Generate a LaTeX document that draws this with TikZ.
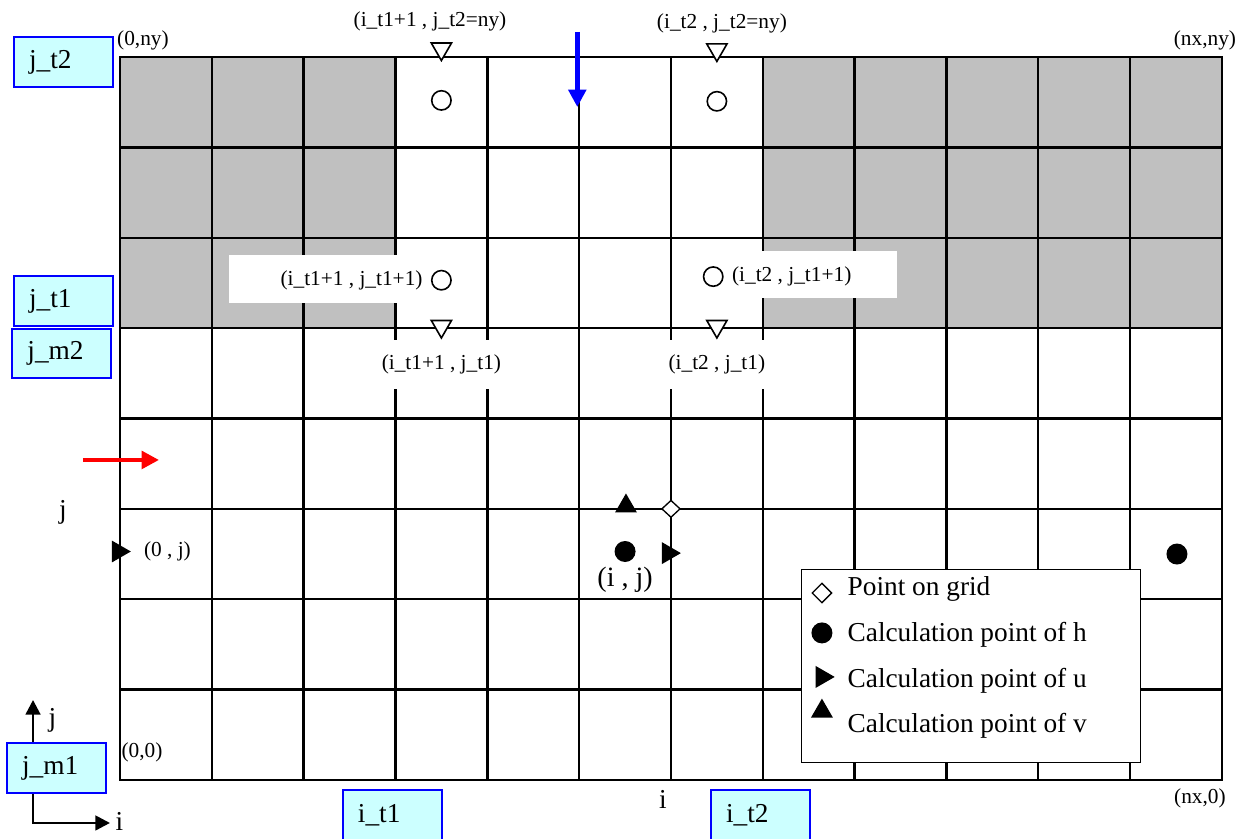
\documentclass[tikz,border=0pt]{standalone}
\usepackage{fontspec}
\setmainfont{Liberation Serif}
\usepackage{xcolor}
\usepackage{tikz}
\usetikzlibrary{calc, positioning, arrows, arrows.meta, shapes, shapes.geometric}

\definecolor{cellgray}{RGB}{192,192,192}
\definecolor{boxcyan}{RGB}{204,255,255}
\newcommand{\lblsize}{\fontsize{16pt}{19pt}\selectfont}
\newcommand{\bigsize}{\fontsize{20.5pt}{24pt}\selectfont}

\begin{document}
\begin{tikzpicture}[x=68.875pt, y=67.78pt, >=stealth', semithick]
			\tikzstyle{every node}=[font=\lblsize, inner sep=1pt]
			\tikzstyle{gridline}=[line width=1.8pt]
			\tikzstyle{idx-box}=[rectangle, draw=blue, line width=1.5pt, fill=boxcyan, text width=51.75pt, inner xsep=11.25pt, inner ysep=0pt, minimum height=37.5pt, align=left, font=\bigsize]
			\tikzstyle{white-box}=[rectangle, fill=white, inner sep=0pt]
			\tikzstyle{h-open}=[circle, draw, line width=1.2pt, minimum size=14.5pt, inner sep=0pt]
			\tikzstyle{h-dot}=[circle, fill, minimum size=15.75pt, inner sep=0pt]
			\tikzstyle{u-dot}=[regular polygon, regular polygon sides=3, shape border rotate=-90, fill, minimum size=19pt, inner sep=0pt]
			\tikzstyle{v-dot}=[regular polygon, regular polygon sides=3, fill, minimum size=19pt, inner sep=0pt]
			\tikzstyle{bc-mark}=[regular polygon, regular polygon sides=3, shape border rotate=180, draw, fill=white, line width=1.2pt, minimum size=17.5pt, inner sep=0pt]
			\tikzstyle{grid-dot}=[diamond, draw, fill=white, line width=1pt, minimum width=14pt, minimum height=13pt, inner sep=0pt]
			\tikzstyle{inflow}=[line width=3.6pt, -{Triangle[length=13pt, width=13pt]}]
			\tikzstyle{axis}=[line width=2pt, {Triangle[length=11pt, width=11pt]}-{Triangle[length=11pt, width=11pt]}]
			\useasboundingbox (-1.3067,-0.6528) rectangle (12.262,8.6307);
			% land cells
			\fill[cellgray] (0,5) rectangle (3,8);
			\fill[cellgray] (7,5) rectangle (12,8);
			\foreach \i in {0,...,12}
				\draw[gridline] (\i,0) -- (\i,8);
			\foreach \j in {0,...,8}
				\draw[gridline] (0,\j) -- (12,\j);
			\draw[gridline] (0,0) rectangle (12,8);
			% text boxes over the land
			\node[white-box, minimum width=180.75pt, minimum height=36pt] (box-t1) at (2.499,5.5435) {};
			\node[white-box, minimum width=155.25pt, minimum height=35.25pt] (box-t2) at (7.334,5.593) {};
			\node[h-open] (h-t1-top) at (3.5,7.52) {};
			\node[h-open] (h-t2-top) at (6.5,7.51) {};
			\node[h-open] (h-t1-in) at (3.5,5.53) {};
			\node[h-open] (h-t2-in) at (6.46,5.57) {};
			\node[left=5pt of h-t1-in] (lbl-t1-in) {(i\_t1+1 , j\_t1+1)};
			\node[right=5pt of h-t2-in] (lbl-t2-in) {(i\_t2 , j\_t1+1)};
			% boundary points
			\node[bc-mark] (bc-t1-top) at (3.5,8.09) {};
			\node[bc-mark] (bc-t2-top) at (6.5,8.08) {};
			\node[bc-mark] (bc-t1-mid) at (3.5,5.02) {};
			\node[bc-mark] (bc-t2-mid) at (6.5,5.02) {};
			\node (lbl-t1-top) at (3.376,8.398) {(i\_t1+1 , j\_t2=ny)};
			\node (lbl-t2-top) at (6.555,8.376) {(i\_t2 , j\_t2=ny)};
			\node[below=0pt of bc-t1-mid, fill=white, minimum height=36.75pt, inner xsep=3pt] (lbl-t1-mid) {(i\_t1+1 , j\_t1)};
			\node[below=0pt of bc-t2-mid, fill=white, minimum height=36.75pt, inner xsep=3pt] (lbl-t2-mid) {(i\_t2 , j\_t1)};
%			\node (lbl-t1-mid) at (3.506,4.581) {(i\_t1+1 , j\_t1)};
			% corners
			\node (c-0ny) at (0.25,8.188) {(0,ny)};
			\node (c-nxny) at (11.815,8.188) {(nx,ny)};
			\node (c-00) at (0.24,0.31) {(0,0)};
			\node (c-nx0) at (11.76,-0.2) {(nx,0)};
			% calculation points
			\node[grid-dot] (p-grid) at (6,3) {};
			\node[h-dot] (h-ij) at (5.5,2.528) {};
			\node[u-dot] (u-ij) at (5.97,2.51) {};
			\node[v-dot] (v-ij) at (5.51,3.03) {};
			\node[below=2pt of h-ij, font=\fontsize{21pt}{24pt}\selectfont] (lbl-ij) {(i , j)};
			\node[h-dot] (h-end) at (11.51,2.5) {};
			\node[u-dot] (u-0j) at (-0.02,2.528) {};
			\node[right=8pt of u-0j] (lbl-0j) {(0 , j)};
			\node[font=\bigsize] (lbl-j) at (-0.621,2.965) {j};
			\node[font=\bigsize] (lbl-i) at (5.913,-0.221) {i};
			% inflow arrows
			\coordinate (in-top-s) at (4.98,8.277);
			\coordinate (in-top-e) at (4.98,7.447);
			\coordinate (in-left-s) at (-0.403,3.541);
			\coordinate (in-left-e) at (0.425,3.541);
			\draw[inflow, blue] (in-top-s) -- (in-top-e);
			\draw[inflow, red] (in-left-s) -- (in-left-e);
			% axes
			\coordinate (ax-o) at (-0.947,-0.476);
			\coordinate (ax-j) at (-0.947,0.885);
			\coordinate (ax-i) at (-0.109,-0.476);
			\draw[axis] (ax-j) -- (ax-o) -- (ax-i);
			\node[font=\bigsize] (ax-j-lbl) at (-0.735,0.66) {j};
			\node[font=\bigsize, right=3pt of ax-i, yshift=1pt] (ax-i-lbl) {i};
			% legend
			\node[rectangle, draw, fill=white, line width=0.8pt, minimum width=254.25pt, minimum height=144.75pt] (legend) at (9.272,1.256) {};
			\node[grid-dot, minimum width=15pt, minimum height=15pt] (leg-grid) at (7.644,2.069) {};
			\node[h-dot] (leg-h) at (7.644,1.627) {};
			\node[u-dot] (leg-u) at (7.645,1.14) {};
			\node[v-dot] (leg-v) at (7.644,0.76) {};
			\node[anchor=base west, font=\bigsize] (leg-grid-txt) at (7.905,2.036) {Point on grid};
			\node[anchor=base west, font=\bigsize] (leg-h-txt) at (7.905,1.527) {Calculation point of h};
			\node[anchor=base west, font=\bigsize] (leg-u-txt) at (7.905,1.018) {Calculation point of u};
			\node[anchor=base west, font=\bigsize] (leg-v-txt) at (7.905,0.520) {Calculation point of v};
			% index boxes
			\node[idx-box] (j-t2) at (-0.615,7.945) {j\_t2};
			\node[idx-box] (j-t1) at (-0.615,5.295) {j\_t1};
			\node[idx-box] (j-m2) at (-0.632,4.719) {j\_m2};
			\node[idx-box] (j-m1) at (-0.691,0.133) {j\_m1};
			\node[idx-box] (i-t1) at (2.967,-0.387) {i\_t1};
			\node[idx-box] (i-t2) at (6.975,-0.387) {i\_t2};
		\end{tikzpicture}
\end{document}
